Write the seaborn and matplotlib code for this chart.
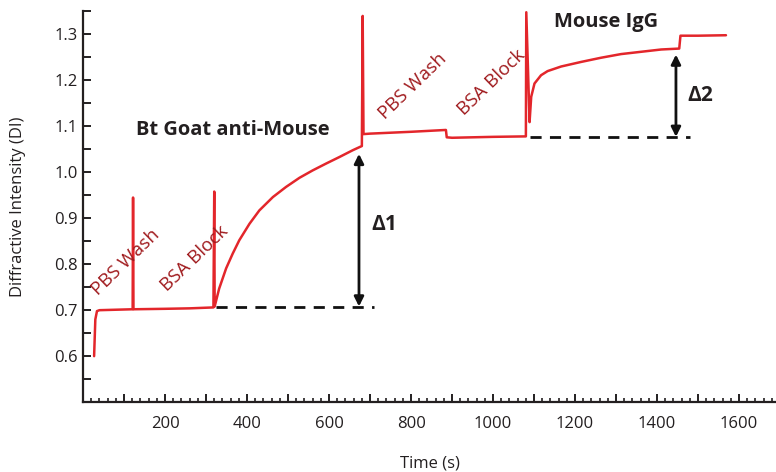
import numpy as np
import pandas as pd
import matplotlib
matplotlib.use("Agg")
import matplotlib.pyplot as plt
from matplotlib.ticker import MultipleLocator, FuncFormatter
import seaborn as sns

# ---- data ----
time_s = [27, 30, 34, 40, 80, 121, 122, 123, 200, 260, 318, 320, 321,
          332, 349, 365, 381, 406, 430, 463, 495, 528, 560, 593, 625, 658, 680,
          682, 684, 700, 800, 885, 887, 900, 1000, 1080, 1081, 1089, 1093, 1101,
          1117, 1133, 1166, 1215, 1263, 1312, 1361, 1410, 1454, 1457,
          1500, 1568]
intensity = [0.600, 0.680, 0.698, 0.700, 0.701, 0.702, 0.945, 0.702, 0.703, 0.704, 0.706, 0.958, 0.708,
             0.747, 0.791, 0.823, 0.852, 0.888, 0.917, 0.946, 0.968, 0.988, 1.004, 1.019, 1.033, 1.048, 1.057,
             1.340, 1.083, 1.084, 1.088, 1.092, 1.076, 1.075, 1.077, 1.078, 1.348, 1.109, 1.164, 1.193,
             1.211, 1.220, 1.230, 1.240, 1.249, 1.257, 1.262, 1.267, 1.269, 1.297,
             1.297, 1.298]

step_labels = ["PBS Wash", "BSA Block", "PBS Wash", "BSA Block"]
step_t = [105, 271, 805, 997]
step_v = [0.804, 0.813, 1.187, 1.196]

baseline1_t = [325, 710]
baseline1_v = 0.708
baseline2_t = [1090, 1480]
baseline2_v = 1.077

delta1_t, delta1_lo, delta1_hi = 673, 0.708, 1.040
delta2_t, delta2_lo, delta2_hi = 1446, 1.077, 1.256

x_major_labels = [200, 400, 600, 800, 1000, 1200, 1400, 1600]
y_labels = [0.6, 0.7, 0.8, 0.9, 1.0, 1.1, 1.2, 1.3]

# ---- style ----
sns.set_style("ticks")
plt.rcParams['font.family'] = ['Open Sans', 'DejaVu Sans']
txt = "#231f20"
red = "#E3262B"
dark_red = "#A01B1E"

fig = plt.figure(figsize=(7.76, 4.72), dpi=100)
ax = fig.add_axes([0.107, 0.148, 0.893, 0.828])

df = pd.DataFrame({"Time (s)": time_s, "DI": intensity})
sns.lineplot(data=df, x="Time (s)", y="DI", ax=ax, color=red, lw=1.8,
             estimator=None, sort=False)

ax.set_xlim(0, 1690)
ax.set_ylim(0.5, 1.35)

sns.despine(ax=ax)
for s in ["left", "bottom"]:
    ax.spines[s].set_linewidth(1.6)
    ax.spines[s].set_color(txt)

ax.xaxis.set_major_locator(MultipleLocator(100))
ax.xaxis.set_minor_locator(MultipleLocator(20))
ax.xaxis.set_major_formatter(FuncFormatter(
    lambda v, p: f"{int(round(v))}" if int(round(v)) in x_major_labels else ""))
ax.set_yticks(y_labels)
ax.set_yticklabels([f"{v:.1f}" for v in y_labels])
ax.yaxis.set_minor_locator(MultipleLocator(0.05))

ax.tick_params(axis="x", which="major", direction="in", length=6, width=1.4,
               labelsize=12, colors=txt, pad=10)
ax.tick_params(axis="x", which="minor", direction="in", length=3, width=1.2, colors=txt)
ax.tick_params(axis="y", which="major", direction="in", length=6, width=1.4,
               labelsize=12, colors=txt, pad=4)
ax.tick_params(axis="y", which="minor", direction="in", length=6, width=1.4, colors=txt)

ax.set_xlabel("Time (s)", fontsize=12, color=txt, labelpad=17)
ax.set_ylabel("Diffractive Intensity (DI)", fontsize=12, color=txt, labelpad=20)

# baselines
ax.plot(baseline1_t, [baseline1_v] * 2, ls=(0, (4, 3)), color="#111111", lw=2)
ax.plot(baseline2_t, [baseline2_v] * 2, ls=(0, (4, 3)), color="#111111", lw=2)

# delta arrows
for t, lo, hi in [(delta1_t, delta1_lo, delta1_hi), (delta2_t, delta2_lo, delta2_hi)]:
    ax.annotate("", xy=(t, hi), xytext=(t, lo),
                arrowprops=dict(arrowstyle="<|-|>", color="#111111", lw=2,
                                mutation_scale=14, shrinkA=0, shrinkB=0))

ax.text(734, 0.887, "Δ1", fontsize=15, fontweight="bold", color=txt,
        ha="center", va="center")
ax.text(1505, 1.167, "Δ2", fontsize=15, fontweight="bold", color=txt,
        ha="center", va="center")

ax.text(129, 1.091, "Bt Goat anti-Mouse", fontsize=14.5, fontweight="bold",
        color=txt, ha="left", va="center")
ax.text(1149, 1.326, "Mouse IgG", fontsize=14.5, fontweight="bold",
        color=txt, ha="left", va="center")

for lab, t, v in zip(step_labels, step_t, step_v):
    ax.text(t, v, lab, fontsize=13.5, color=dark_red, rotation=44,
            rotation_mode="anchor", ha="center", va="center")

fig.savefig("out.png", dpi=100)
